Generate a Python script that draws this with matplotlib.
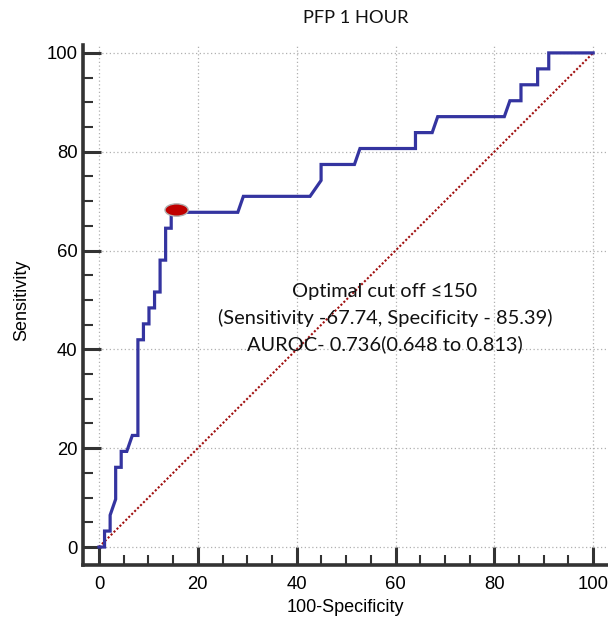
import matplotlib
matplotlib.use('Agg')
import matplotlib.pyplot as plt
from matplotlib.patches import Ellipse
from matplotlib.ticker import MultipleLocator

# ROC curve points (100-Specificity, Sensitivity)
fpr = [0, 1.12, 1.12, 2.25, 2.25, 3.37, 3.37, 4.49, 4.49, 5.62, 6.74, 7.87,
       7.87, 8.99, 8.99, 10.11, 10.11, 11.24, 11.24, 12.36, 12.36, 13.48, 13.48,
       14.61, 14.61, 28.09, 29.21, 42.70, 44.94, 44.94, 51.69, 52.81, 64.04,
       64.04, 67.42, 68.54, 82.02, 83.15, 85.39, 85.39, 88.76, 88.76, 91.01,
       91.01, 100]
tpr = [0, 0, 3.23, 3.23, 6.45, 9.68, 16.13, 16.13, 19.35, 19.35, 22.58, 22.58,
       41.94, 41.94, 45.16, 45.16, 48.39, 48.39, 51.61, 51.61, 58.06, 58.06, 64.52,
       64.52, 67.74, 67.74, 70.97, 70.97, 74.19, 77.42, 77.42, 80.65, 80.65,
       83.87, 83.87, 87.10, 87.10, 90.32, 90.32, 93.55, 93.55, 96.77, 96.77,
       100, 100]
ref_x = [0, 100]
ref_y = [0, 100]
cut_x, cut_y = 15.7, 68.2
major_ticks = [0, 20, 40, 60, 80, 100]
title = "PFP 1 HOUR"
xlabel = "100-Specificity"
ylabel = "Sensitivity"
annot_lines = ["Optimal cut off \u2264150",
               "(Sensitivity -67.74, Specificity - 85.39)",
               "AUROC- 0.736(0.648 to 0.813)"]

W, H = 608, 622
fig = plt.figure(figsize=(W / 100, H / 100), dpi=100)
ax = fig.add_axes([83 / W, 57 / H, 525 / W, 520 / H])
ax.set_xlim(-3.24, 103.0)
ax.set_ylim(-3.64, 101.6)

for s in ['top', 'right']:
    ax.spines[s].set_visible(False)
for s in ['left', 'bottom']:
    ax.spines[s].set_linewidth(2.6)
    ax.spines[s].set_color('#333333')

ax.set_xticks(major_ticks)
ax.set_yticks(major_ticks)
ax.xaxis.set_minor_locator(MultipleLocator(5))
ax.yaxis.set_minor_locator(MultipleLocator(5))
ax.tick_params(which='major', direction='in', length=13, width=2.2, color='#333333',
               labelsize=13.3)
ax.tick_params(which='minor', direction='in', length=7, width=1.5, color='#333333')
ax.tick_params(axis='x', which='major', pad=8)
ax.tick_params(axis='y', which='major', pad=4)
for lab in ax.get_xticklabels() + ax.get_yticklabels():
    lab.set_fontfamily('Liberation Sans')

ax.grid(True, which='major', color='#b0b0b0', linestyle=(0, (1, 2)), linewidth=0.9)
ax.set_axisbelow(True)

ax.plot(ref_x, ref_y, color='#a01010', linestyle=(0, (1, 1)), linewidth=1.5, zorder=2)
ax.plot(fpr, tpr, color='#3434a0', linewidth=2.3, solid_joinstyle='miter', zorder=3)
ax.add_patch(Ellipse((cut_x, cut_y), width=4.7, height=2.5, facecolor='#c00000',
                     edgecolor='#b0b0b0', linewidth=1.0, zorder=4))

fig.text(356 / W, 1 - 18 / H, title, ha='center', va='center', fontsize=13.2,
         family='Lato', color='#111111')
fig.text(345 / W, 1 - 607 / H, xlabel, ha='center', va='center', fontsize=13,
         family='Liberation Sans')
fig.text(22 / W, 1 - 300 / H, ylabel, ha='center', va='center', fontsize=13,
         family='Liberation Sans', rotation=90)
for i, line in enumerate(annot_lines):
    fig.text(385 / W, 1 - (292 + 26 * i) / H, line, ha='center', va='center',
             fontsize=14.4, family='Lato', color='#111111')

fig.savefig('out.png', dpi=100)
